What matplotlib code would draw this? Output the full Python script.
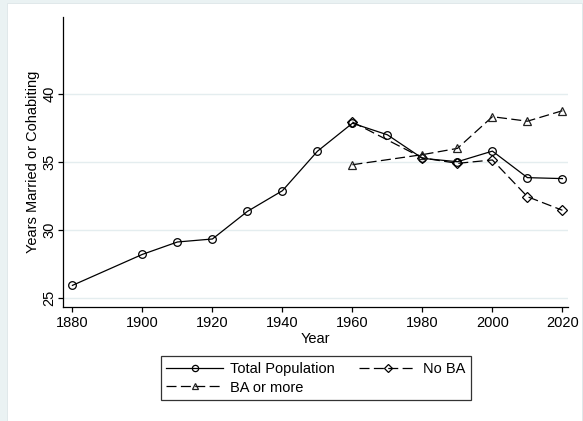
import matplotlib
matplotlib.use("Agg")
import matplotlib.pyplot as plt
from matplotlib.patches import Rectangle

plt.rcParams["font.family"] = ["Liberation Sans", "DejaVu Sans"]

# decennial estimates, years spent married or cohabiting
years_total = [1880, 1900, 1910, 1920, 1930, 1940, 1950, 1960, 1970, 1980, 1990, 2000, 2010, 2020]
total_pop = [25.93, 28.21, 29.12, 29.34, 31.37, 32.89, 35.79, 37.85, 37.0, 35.27, 35.02, 35.8, 33.85, 33.78]

years_ed = [1960, 1980, 1990, 2000, 2010, 2020]
no_ba = [37.94, 35.3, 34.9, 35.15, 32.45, 31.45]
ba_more = [34.8, 35.54, 36.0, 38.33, 38.0, 38.77]

x_ticks = [1880, 1900, 1920, 1940, 1960, 1980, 2000, 2020]
y_ticks = [25, 30, 35, 40]

W, H = 583, 421
bg = "#eaf2f3"
grid_c = "#e4edef"

fig = plt.figure(figsize=(W / 100, H / 100), dpi=100, facecolor=bg)
# white plot region inside the pale graph region
fig.patches.append(Rectangle((7 / W, 0), (582 - 7) / W, 1 - 3 / H, transform=fig.transFigure,
                             facecolor="white", edgecolor="#dde6e8", linewidth=0.6, zorder=-5))

ax = fig.add_axes([63 / W, 1 - 307 / H, (568 - 63) / W, (307 - 17) / H])
ax.set_facecolor("white")

dash = (8, 3.5)
ax.plot(years_total, total_pop, color="black", lw=0.9, marker="o", ms=5.5,
        mfc="none", mec="black", mew=0.9, label="Total Population", zorder=3)
ax.plot(years_ed, no_ba, color="black", lw=0.9, dashes=dash, marker="D", ms=5,
        mfc="none", mec="black", mew=0.9, label="No BA", zorder=3)
ax.plot(years_ed, ba_more, color="black", lw=0.9, dashes=dash, marker="^", ms=6,
        mfc="none", mec="#222222", mew=0.9, label="BA or more", zorder=3)

ax.set_xlim(1877.3, 2021.6)
ax.set_ylim(24.34, 45.66)
ax.set_xticks(x_ticks)
ax.set_yticks(y_ticks)
ax.set_yticklabels([str(v) for v in y_ticks], rotation=90, va="center")
for y in y_ticks:
    ax.axhline(y, color=grid_c, lw=1.0, zorder=1)

for s in ("top", "right"):
    ax.spines[s].set_visible(False)
for s in ("left", "bottom"):
    ax.spines[s].set_linewidth(0.9)
ax.tick_params(axis="both", direction="out", length=3.6, width=0.9, labelsize=10.5)
ax.tick_params(axis="x", pad=3)
ax.tick_params(axis="y", pad=1)

ax.set_xlabel("Year", fontsize=10.5, labelpad=1)
ax.set_ylabel("Years Married or Cohabiting", fontsize=10.5, labelpad=2)

# row-major legend order: Total, No BA / BA or more
h, l = ax.get_legend_handles_labels()
order = [0, 2, 1]
leg = ax.legend([h[i] for i in order], [l[i] for i in order], ncol=2,
                loc="center", bbox_to_anchor=(315.8 / W, 1 - 378.4 / H),
                bbox_transform=fig.transFigure, fontsize=10.5, frameon=True,
                fancybox=False, edgecolor="black", handlelength=3.9,
                handletextpad=0.45, columnspacing=1.7, labelspacing=0.3,
                borderpad=0.4, borderaxespad=0)
leg.get_frame().set_linewidth(0.9)
for lh in leg.legend_handles:
    lh.set_markersize(4.5)

fig.savefig("out.png", dpi=100, facecolor=bg)
